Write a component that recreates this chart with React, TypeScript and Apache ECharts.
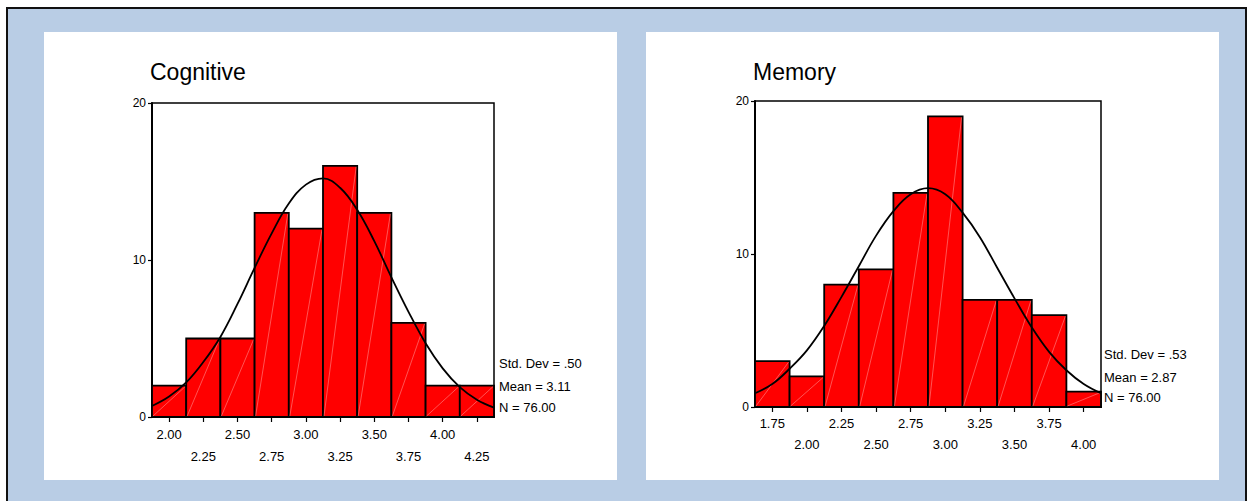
import React, { useEffect, useRef } from "react";
import * as echarts from "echarts";

// ---- Data ----
const cogBins = ["2.00", "2.25", "2.50", "2.75", "3.00", "3.25", "3.50", "3.75", "4.00", "4.25"];
const cogCenters = [2.0, 2.25, 2.5, 2.75, 3.0, 3.25, 3.5, 3.75, 4.0, 4.25];
const cogCounts = [2, 5, 5, 13, 12, 16, 13, 6, 2, 2];
const cogCurveX = [1.875, 2.0, 2.125, 2.25, 2.375, 2.5, 2.625, 2.75, 2.875, 3.0, 3.125, 3.25, 3.375, 3.5, 3.625, 3.75, 3.875, 4.0, 4.125, 4.25, 4.375];
const cogCurveY = [0.7, 1.3, 2.2, 3.5, 5.1, 7.2, 9.5, 11.7, 13.6, 14.8, 15.2, 14.6, 13.2, 11.2, 8.9, 6.7, 4.7, 3.1, 1.9, 1.1, 0.6];
const cogStats = ["Std. Dev = .50", "Mean = 3.11", "N = 76.00"];

const memBins = ["1.75", "2.00", "2.25", "2.50", "2.75", "3.00", "3.25", "3.50", "3.75", "4.00"];
const memCenters = [1.75, 2.0, 2.25, 2.5, 2.75, 3.0, 3.25, 3.5, 3.75, 4.0];
const memCounts = [3, 2, 8, 9, 14, 19, 7, 7, 6, 1];
const memCurveX = [1.625, 1.75, 1.875, 2.0, 2.125, 2.25, 2.375, 2.5, 2.625, 2.75, 2.875, 3.0, 3.125, 3.25, 3.375, 3.5, 3.625, 3.75, 3.875, 4.0, 4.125];
const memCurveY = [0.9, 1.5, 2.5, 3.7, 5.3, 7.2, 9.2, 11.2, 12.8, 13.9, 14.3, 13.9, 12.7, 11.1, 9.1, 7.1, 5.2, 3.6, 2.4, 1.5, 0.9];
const memStats = ["Std. Dev = .53", "Mean = 2.87", "N = 76.00"];

const yTicks = { min: 0, max: 20, interval: 10 };
const binWidth = 0.25;

const FONT = "Liberation Sans, Arial, sans-serif";

function renderBar(params: any, api: any) {
  const x = api.value(0);
  const y = api.value(1);
  const p0 = api.coord([x - binWidth / 2, 0]);
  const p1 = api.coord([x + binWidth / 2, y]);
  return {
    type: "group",
    children: [
      {
        type: "rect",
        shape: { x: p0[0], y: p1[1], width: p1[0] - p0[0], height: p0[1] - p1[1] },
        style: { fill: "#FF0000", stroke: "#000000", lineWidth: 1.8 },
      },
      {
        type: "line",
        shape: { x1: p0[0] + 1, y1: p0[1] - 1, x2: p1[0] - 1, y2: p1[1] + 1 },
        style: { stroke: "rgba(255,255,255,0.55)", lineWidth: 0.6 },
      },
    ],
  };
}

export default function App() {
  const ref = useRef<HTMLDivElement>(null);
  useEffect(() => {
    if (!ref.current) return;
    const chart = echarts.init(ref.current, null, { renderer: "svg" });

    const makeXCat = (gridIndex: number, labels: string[], lh: number) => ({
      type: "category",
      gridIndex,
      data: labels,
      position: "bottom",
      boundaryGap: true,
      axisLine: { show: true, lineStyle: { color: "#000", width: 2 } },
      axisTick: { show: true, alignWithLabel: true, interval: 0, length: 5, lineStyle: { color: "#000", width: 1.2 } },
      axisLabel: {
        interval: 0,
        margin: 6,
        color: "#000",
        fontSize: 13,
        fontFamily: FONT,
        lineHeight: lh,
        formatter: (v: string, i: number) => (i % 2 ? "\n" + v : v),
      },
      splitLine: { show: false },
    });
    const makeXVal = (gridIndex: number, min: number, max: number) => ({
      type: "value",
      gridIndex,
      min,
      max,
      show: false,
      splitLine: { show: false },
    });
    const makeY = (gridIndex: number) => ({
      type: "value",
      gridIndex,
      min: yTicks.min,
      max: yTicks.max,
      interval: yTicks.interval,
      axisLine: { show: true, lineStyle: { color: "#000", width: 2 } },
      axisTick: { show: true, length: 4, lineStyle: { color: "#000", width: 1.2 } },
      axisLabel: { color: "#000", fontSize: 12, fontFamily: FONT, margin: 6 },
      splitLine: { show: false },
    });

    const statText = (x: number, ys: number[], lines: string[]) =>
      lines.map((t, i) => ({
        type: "text",
        x,
        y: ys[i],
        z: 10,
        style: { text: t, fill: "#000", fontSize: 13, fontFamily: FONT, verticalAlign: "middle", align: "left" },
      }));

    chart.setOption({
      animation: false,
      textStyle: { fontFamily: FONT },
      title: [
        { text: "Cognitive", left: 150, top: 60, padding: 0, textStyle: { fontSize: 23, fontWeight: "normal", color: "#000", fontFamily: FONT } },
        { text: "Memory", left: 753, top: 60, padding: 0, textStyle: { fontSize: 23, fontWeight: "normal", color: "#000", fontFamily: FONT } },
      ],
      graphic: [
        { type: "rect", z: -10, shape: { x: 7, y: 8, width: 1239, height: 500 }, style: { fill: "#B9CDE5", stroke: "#111", lineWidth: 2 } },
        { type: "rect", z: -9, shape: { x: 44, y: 32, width: 573, height: 448 }, style: { fill: "#FFFFFF" } },
        { type: "rect", z: -9, shape: { x: 646, y: 32, width: 573, height: 448 }, style: { fill: "#FFFFFF" } },
        ...statText(499, [363, 386, 407], cogStats),
        ...statText(1104, [354, 377, 397], memStats),
      ],
      grid: [
        { left: 152, top: 103, width: 342, height: 314, show: true, borderColor: "#000", borderWidth: 1.5, backgroundColor: "transparent" },
        { left: 755, top: 101, width: 346, height: 306, show: true, borderColor: "#000", borderWidth: 1.5, backgroundColor: "transparent" },
      ],
      xAxis: [
        makeXCat(0, cogBins, 22),
        makeXVal(0, cogCenters[0] - binWidth / 2, cogCenters[cogCenters.length - 1] + binWidth / 2),
        makeXCat(1, memBins, 21),
        makeXVal(1, memCenters[0] - binWidth / 2, memCenters[memCenters.length - 1] + binWidth / 2),
      ],
      yAxis: [makeY(0), makeY(1)],
      series: [
        {
          type: "custom",
          xAxisIndex: 1,
          yAxisIndex: 0,
          renderItem: renderBar,
          data: cogCenters.map((c, i) => [c, cogCounts[i]]),
          z: 2,
        },
        {
          type: "line",
          xAxisIndex: 1,
          yAxisIndex: 0,
          data: cogCurveX.map((x, i) => [x, cogCurveY[i]]),
          smooth: 0.4,
          showSymbol: false,
          lineStyle: { color: "#000", width: 1.8 },
          z: 5,
        },
        {
          type: "custom",
          xAxisIndex: 3,
          yAxisIndex: 1,
          renderItem: renderBar,
          data: memCenters.map((c, i) => [c, memCounts[i]]),
          z: 2,
        },
        {
          type: "line",
          xAxisIndex: 3,
          yAxisIndex: 1,
          data: memCurveX.map((x, i) => [x, memCurveY[i]]),
          smooth: 0.4,
          showSymbol: false,
          lineStyle: { color: "#000", width: 1.8 },
          z: 5,
        },
      ],
    });
    return () => chart.dispose();
  }, []);
  return (
    <div
      ref={ref}
      style={{ position: "absolute", left: 0, top: 0, width: 1250, height: 501, background: "#FFFFFF" }}
    />
  );
}
